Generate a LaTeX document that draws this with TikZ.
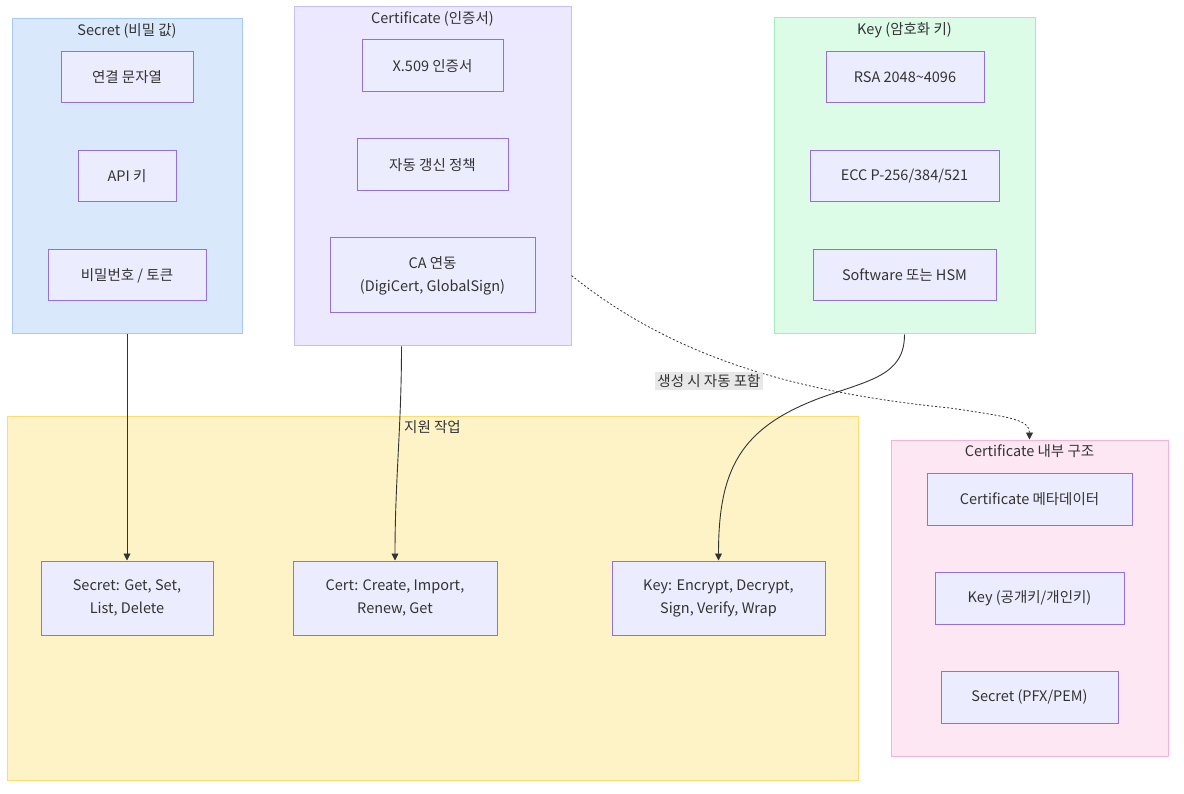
\documentclass[tikz,border=0pt]{standalone}
\usepackage{fontspec}
\setmainfont{Noto Sans CJK KR}
\usepackage{tikz}
\usetikzlibrary{arrows.meta,positioning}
\definecolor{NodeFill}{HTML}{ECECFF}
\definecolor{NodeLine}{HTML}{9370DB}
\definecolor{TextGray}{HTML}{333333}
\definecolor{EdgeGray}{HTML}{333333}
\definecolor{SecFill}{HTML}{DAE8FC}
\definecolor{SecLine}{HTML}{A9C9F5}
\definecolor{CertFill}{HTML}{ECE8FD}
\definecolor{CertLine}{HTML}{C9BFF7}
\definecolor{KeyFill}{HTML}{DCFCE7}
\definecolor{KeyLine}{HTML}{A3EDBC}
\definecolor{OpsFill}{HTML}{FEF3C7}
\definecolor{OpsLine}{HTML}{FCDC6E}
\definecolor{InFill}{HTML}{FCE7F3}
\definecolor{InLine}{HTML}{F7B2D8}
\definecolor{LabelFill}{HTML}{E8E8E8}

\begin{document}
\begin{tikzpicture}[
    x=1pt, y=-1pt,
    every node/.style={
        font=\fontsize{14.5}{23}\selectfont,
        text=TextGray,
    },
    grp/.style={
        line width=1pt,
        inner sep=0pt,
    },
    grptitle/.style={
        inner sep=2pt,
    },
    box/.style={
        draw=NodeLine,
        fill=NodeFill,
        line width=1pt,
        inner sep=0pt,
        align=center,
    },
    flow/.style={
        -{Triangle[length=7pt,width=7pt]},
        line width=0.9pt,
        color=EdgeGray,
    },
]
\useasboundingbox[fill=white] (0,0) rectangle (1184,794);

% groups
\node[grp,draw=SecLine,fill=SecFill,minimum width=230pt,minimum height=315pt] (secgrp) at (127,176.5) {};
\node[grp,draw=CertLine,fill=CertFill,minimum width=277pt,minimum height=339pt] (certgrp) at (432.5,176.5) {};
\node[grp,draw=KeyLine,fill=KeyFill,minimum width=261pt,minimum height=316pt] (keygrp) at (904.5,176) {};
\node[grp,draw=OpsLine,fill=OpsFill,minimum width=851pt,minimum height=364pt] (opsgrp) at (432.5,598) {};
\node[grp,draw=InLine,fill=InFill,minimum width=277pt,minimum height=316pt] (ingrp) at (1029.5,598) {};

\node[grptitle,below=2.5pt] (sect) at (secgrp.north) {Secret (비밀 값)};
\node[grptitle,below=2.5pt] (certt) at (certgrp.north) {Certificate (인증서)};
\node[grptitle,below=2.5pt] (keyt) at (keygrp.north) {Key (암호화 키)};
\node[grptitle,below=2.5pt] (opst) at (opsgrp.north) {지원 작업};
\node[grptitle,below=2.5pt] (int) at (ingrp.north) {Certificate 내부 구조};

% secret
\node[box,minimum width=132pt,minimum height=51pt] (connstr) at (127,77.5) {연결 문자열};
\node[box,minimum width=98pt,minimum height=51pt] (apikey) at (127,176.5) {API 키};
\node[box,minimum width=158pt,minimum height=51pt] (pwd) at (127,275.5) {비밀번호 / 토큰};

% certificate
\node[box,minimum width=141pt,minimum height=52pt] (x509) at (432.5,66) {X.509 인증서};
\node[box,minimum width=151pt,minimum height=52pt] (renew) at (432.5,165) {자동 갱신 정책};
\node[box,minimum width=205pt,minimum height=75pt] (caint) at (432.5,275.5) {CA 연동\\(DigiCert, GlobalSign)};

% key
\node[box,minimum width=158pt,minimum height=51pt] (rsa) at (905,77.5) {RSA 2048\textasciitilde4096};
\node[box,minimum width=189pt,minimum height=51pt] (ecc) at (904.5,176.5) {ECC P-256/384/521};
\node[box,minimum width=183pt,minimum height=51pt] (hsm) at (904.5,275.5) {Software 또는 HSM};

% operations
\node[box,minimum width=172pt,minimum height=74pt] (secops) at (127,598) {Secret: Get, Set,\\List, Delete};
\node[box,minimum width=204pt,minimum height=74pt] (certops) at (395,598) {Cert: Create, Import,\\Renew, Get};
\node[box,minimum width=213pt,minimum height=74pt] (keyops) at (718.5,598) {Key: Encrypt, Decrypt,\\Sign, Verify, Wrap};

% inner structure
\node[box,minimum width=205pt,minimum height=52pt] (meta) at (1029.5,499) {Certificate 메타데이터};
\node[box,minimum width=189pt,minimum height=52pt] (keypair) at (1029.5,598) {Key (공개키/개인키)};
\node[box,minimum width=177pt,minimum height=52pt] (pfx) at (1029.5,697) {Secret (PFX/PEM)};

% connectors
\coordinate (kbend) at (820,398);
\coordinate (dbend) at (950,408);

\draw[flow] (secgrp.south) -- (secops.north);
\draw[flow] ([xshift=-31pt]certgrp.south) .. controls +(0,80) and +(0,-80) .. (certops.north);
\draw[flow] (keygrp.south) .. controls +(0,41) and +(50,-18) .. (kbend)
    .. controls +(-80,30) and +(0,-91) .. (keyops.north);
\draw[flow,dash pattern=on 2pt off 2pt,line width=0.8pt] (certgrp.east |- caint.east)
    .. controls +(99,79.5) and +(-160,-16) .. (dbend)
    .. controls +(60,9) and +(0,-20) .. (ingrp.north);

\node[fill=LabelFill,inner sep=2pt] (incl) at (709,381) {생성 시 자동 포함};
\end{tikzpicture}
\end{document}
